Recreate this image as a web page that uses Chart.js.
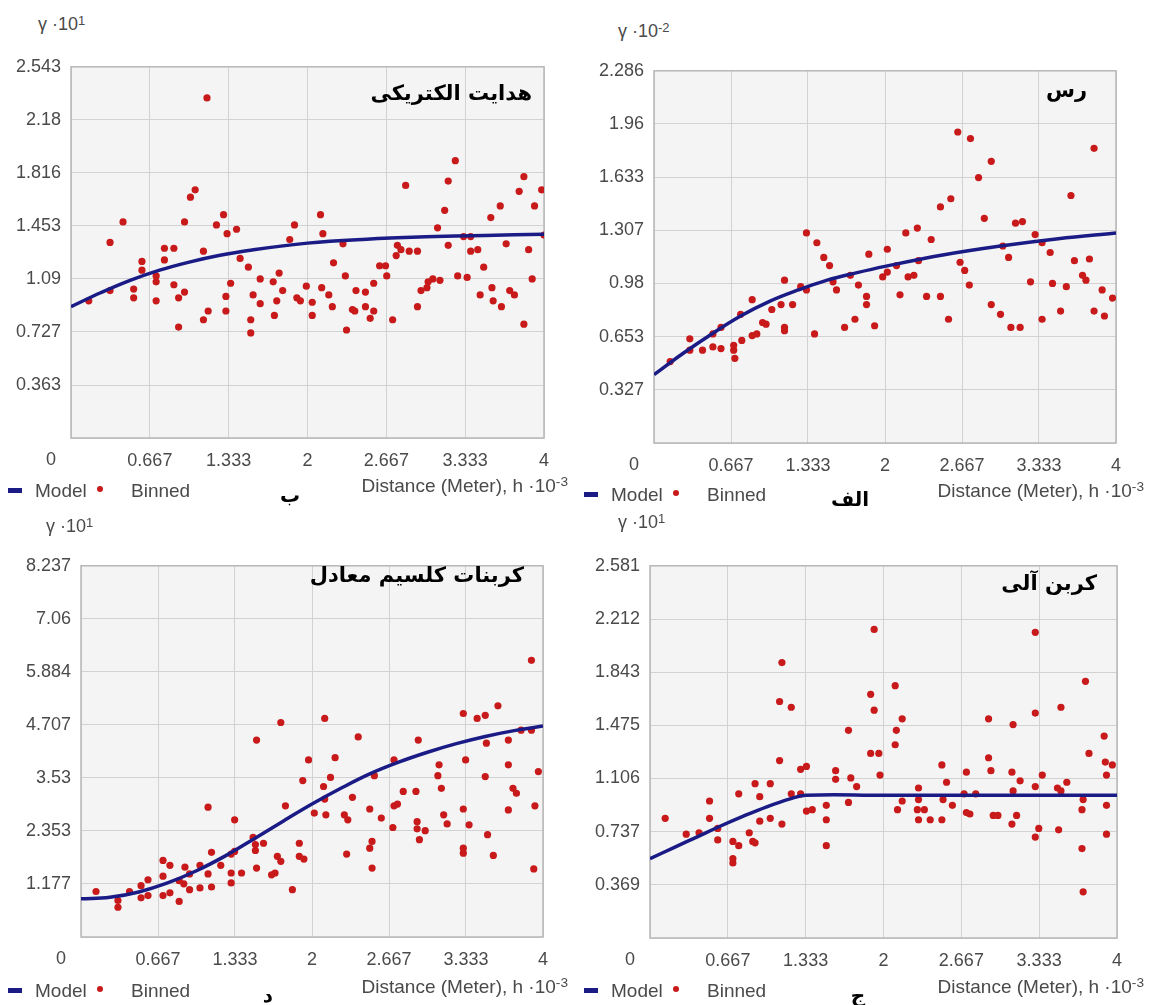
<!DOCTYPE html>
<html>
<head>
<meta charset="utf-8">
<script src="https://cdn.jsdelivr.net/npm/chart.js@4.4.1/dist/chart.umd.min.js"></script>
<style>
  body { margin: 0; width: 1153px; height: 1005px; background: #fff; position: relative; overflow: hidden;
         font-family: "Liberation Sans", Arial, sans-serif; }
  canvas { position: absolute; }
  .t { position: absolute; white-space: nowrap; color: #4a4a4a; font-size: 16px; line-height: 1; }
  .t sup { font-size: 0.72em; vertical-align: 0.45em; }
  .fa { position: absolute; white-space: nowrap; font-family: "DejaVu Sans", sans-serif; font-weight: bold;
        color: #000; direction: rtl; line-height: 1; }
  .bar { position: absolute; width: 14px; height: 5px; background: #1b1b86; }
  .dot { position: absolute; width: 6px; height: 6px; border-radius: 50%; background: #c81a1a; }
</style>
</head>
<body>
<script>
// محور افقی (فاصله) مشترک
const xTicks = [0, 0.667, 1.333, 2, 2.667, 3.333, 4];
const xTickLabels = ['0', '0.667', '1.333', '2', '2.667', '3.333', '4'];

// هدایت الکتریکی (ب)
const ecYTicks = [0, 0.363, 0.727, 1.09, 1.453, 1.816, 2.18, 2.543];
const ecBinnedX = [0.15,0.33,0.33,0.44,0.53,0.53,0.60,0.60,0.72,0.72,0.72,0.79,0.79,0.87,0.87,0.91,0.91,0.96,0.96,1.01,
  1.05,1.12,1.12,1.16,1.15,1.23,1.29,1.32,1.31,1.31,1.35,1.40,1.43,1.50,1.52,1.52,1.54,1.60,1.60,1.71,
  1.72,1.74,1.76,1.79,1.85,1.89,1.91,1.94,1.99,2.04,2.04,2.11,2.13,2.12,2.18,2.21,2.22,2.30,2.32,2.33,
  2.38,2.40,2.41,2.49,2.49,2.53,2.56,2.56,2.61,2.66,2.67,2.72,2.75,2.76,2.79,2.83,2.86,2.93,2.93,2.96,
  3.01,3.02,3.06,3.10,3.12,3.16,3.19,3.19,3.25,3.27,3.32,3.35,3.38,3.38,3.44,3.46,3.49,3.55,3.56,3.57,
  3.63,3.64,3.68,3.71,3.75,3.79,3.83,3.83,3.87,3.90,3.92,3.98,4.00];
const ecBinnedY = [0.94,1.01,1.34,1.48,1.02,0.96,1.21,1.15,1.11,1.07,0.94,1.22,1.30,1.05,1.30,0.96,0.76,1.00,1.48,1.65,
  1.70,0.81,1.28,0.87,2.33,1.46,1.53,1.40,0.97,0.87,1.06,1.43,1.23,1.17,0.81,0.72,0.98,1.09,0.92,1.07,
  0.84,0.94,1.13,1.01,1.36,1.46,0.96,0.94,1.04,0.93,0.84,1.53,1.40,1.03,0.98,0.90,1.20,1.33,1.11,0.74,
  0.88,0.87,1.01,1.00,0.90,0.82,1.06,0.87,1.18,1.18,1.11,0.81,1.25,1.32,1.29,1.73,1.28,1.28,0.90,1.01,
  1.03,1.07,1.09,1.44,1.08,1.56,1.76,1.32,1.90,1.11,1.38,1.10,1.38,1.28,1.29,0.98,1.17,1.51,1.03,0.94,
  1.59,0.90,1.33,1.01,0.98,1.69,1.79,0.78,1.29,1.09,1.59,1.70,1.39];
const ecModelX = [0, 0.25, 0.5, 0.75, 1, 1.25, 1.5, 2, 2.5, 3, 3.5, 4];
const ecModelY = [0.90, 0.995, 1.08, 1.15, 1.205, 1.25, 1.285, 1.335, 1.362, 1.378, 1.388, 1.395];

// رس (الف)
const clayYTicks = [0, 0.327, 0.653, 0.98, 1.307, 1.633, 1.96, 2.286];
const clayBinnedX = [0.14,0.31,0.31,0.42,0.51,0.51,0.58,0.58,0.69,0.69,0.70,0.75,0.76,0.85,0.85,0.89,0.94,0.97,1.02,1.10,
  1.13,1.13,1.13,1.20,1.27,1.32,1.32,1.39,1.41,1.47,1.52,1.55,1.58,1.65,1.70,1.74,1.77,1.84,1.84,1.86,
  1.91,1.98,2.02,2.02,2.10,2.13,2.18,2.20,2.25,2.28,2.29,2.36,2.40,2.48,2.48,2.55,2.57,2.63,2.65,2.69,
  2.73,2.74,2.81,2.86,2.92,2.92,3.00,3.02,3.07,3.09,3.13,3.17,3.19,3.26,3.30,3.36,3.36,3.43,3.45,3.52,
  3.57,3.61,3.64,3.71,3.74,3.77,3.81,3.81,3.88,3.90,3.97];
const clayBinnedY = [0.50,0.64,0.57,0.57,0.67,0.59,0.71,0.58,0.60,0.57,0.52,0.79,0.63,0.88,0.66,0.67,0.74,0.73,0.82,0.85,
  1.00,0.71,0.69,0.85,0.96,0.94,1.29,0.67,1.23,1.14,1.09,0.99,0.94,0.71,1.03,0.76,0.97,0.90,0.85,1.16,
  0.72,1.02,1.05,1.19,1.09,0.91,1.29,1.02,1.03,1.32,1.12,0.90,1.25,0.90,1.45,0.76,1.50,1.91,1.11,1.06,
  0.97,1.87,1.63,1.38,1.73,0.85,0.79,1.21,1.14,0.71,1.35,0.71,1.36,0.99,1.28,1.23,0.76,1.17,0.98,0.81,
  0.96,1.52,1.12,1.03,1.00,1.13,1.81,0.81,0.94,0.78,0.89];
const clayModelX = [0, 0.25, 0.5, 0.75, 1, 1.25, 1.5, 1.75, 2, 2.5, 3, 3.5, 4];
const clayModelY = [0.42, 0.55, 0.67, 0.78, 0.87, 0.94, 1.00, 1.045, 1.085, 1.155, 1.21, 1.255, 1.29];

// کربنات کلسیم معادل (د)
const caco3YTicks = [0, 1.177, 2.353, 3.53, 4.707, 5.884, 7.06, 8.237];
const caco3BinnedX = [0.13,0.32,0.32,0.42,0.52,0.52,0.58,0.58,0.71,0.71,0.71,0.77,0.77,0.85,0.85,0.89,0.90,0.94,0.94,1.03,
  1.03,1.10,1.10,1.13,1.13,1.21,1.30,1.30,1.30,1.33,1.33,1.39,1.49,1.51,1.51,1.52,1.52,1.58,1.65,1.68,
  1.70,1.73,1.73,1.77,1.83,1.89,1.89,1.92,1.93,1.97,2.02,2.10,2.11,2.11,2.12,2.16,2.20,2.28,2.30,2.31,
  2.35,2.40,2.50,2.50,2.52,2.52,2.54,2.60,2.70,2.71,2.71,2.74,2.79,2.90,2.91,2.91,2.92,2.93,2.98,3.09,
  3.10,3.12,3.14,3.17,3.31,3.31,3.31,3.31,3.33,3.36,3.43,3.50,3.50,3.51,3.52,3.57,3.61,3.70,3.70,3.70,
  3.74,3.77,3.81,3.90,3.90,3.92,3.93,3.96];
const caco3BinnedY = [1.01,0.81,0.66,1.01,1.14,0.87,1.27,0.92,1.70,1.35,0.92,1.59,0.98,1.25,0.79,1.18,1.55,1.40,1.05,1.59,
  1.09,2.88,1.40,1.88,1.11,1.59,1.42,1.20,1.84,2.60,1.90,1.42,2.21,2.05,1.92,1.53,4.37,2.08,1.38,1.42,
  1.79,1.68,4.76,2.91,1.05,2.08,1.79,3.47,1.73,3.93,2.75,3.34,3.06,4.85,2.71,3.54,3.98,2.71,1.84,2.60,
  3.10,4.44,2.84,1.97,2.12,1.53,3.58,2.64,2.43,2.91,3.93,2.95,3.23,3.23,2.56,2.40,4.37,2.16,2.36,3.58,
  3.82,3.30,2.71,2.51,4.96,2.84,1.97,1.86,3.93,2.49,4.85,4.92,3.56,4.30,2.27,1.81,5.13,4.37,3.82,2.82,
  3.30,3.19,4.59,6.14,4.59,1.51,2.91,3.67];
const caco3ModelX = [0, 0.25, 0.5, 0.75, 1, 1.25, 1.5, 1.75, 2, 2.25, 2.5, 2.75, 3, 3.25, 3.5, 3.75, 4];
const caco3ModelY = [0.85, 0.88, 1.00, 1.20, 1.47, 1.80, 2.18, 2.57, 2.95, 3.30, 3.62, 3.88, 4.10, 4.29, 4.45, 4.58, 4.68];

// کربن آلی (ج)
const ocYTicks = [0, 0.369, 0.737, 1.106, 1.475, 1.843, 2.212, 2.581];
const ocBinnedX = [0.13,0.31,0.42,0.51,0.51,0.58,0.58,0.71,0.71,0.71,0.76,0.76,0.85,0.88,0.90,0.90,0.94,0.94,1.03,1.03,
  1.11,1.11,1.13,1.13,1.21,1.21,1.29,1.29,1.34,1.34,1.39,1.51,1.51,1.51,1.59,1.59,1.70,1.70,1.72,1.77,
  1.89,1.89,1.92,1.92,1.96,1.97,2.10,2.10,2.11,2.12,2.16,2.16,2.29,2.30,2.30,2.30,2.35,2.40,2.50,2.50,
  2.51,2.54,2.59,2.69,2.71,2.71,2.74,2.79,2.90,2.90,2.92,2.94,2.98,3.10,3.10,3.11,3.11,3.14,3.17,3.30,
  3.30,3.30,3.30,3.33,3.36,3.49,3.50,3.52,3.52,3.57,3.70,3.70,3.71,3.71,3.73,3.76,3.89,3.90,3.91,3.91,
  3.91,3.96];
const ocBinnedY = [0.83,0.72,0.73,0.95,0.83,0.76,0.68,0.67,0.55,0.52,1.00,0.64,0.73,0.67,1.07,0.66,0.98,0.81,1.07,0.83,
  1.64,1.23,1.91,0.79,1.60,1.00,1.17,1.00,1.19,0.88,0.89,0.92,0.82,0.64,1.16,1.10,1.44,0.94,1.11,1.05,
  1.69,1.28,2.14,1.58,1.28,1.13,1.75,1.34,1.44,0.89,1.52,0.95,0.89,1.04,0.96,0.82,0.89,0.82,1.20,0.82,
  0.96,1.08,0.92,1.00,0.87,1.15,0.86,1.00,1.52,1.25,1.16,0.85,0.85,1.15,0.79,1.48,1.02,0.85,1.09,2.12,
  1.56,1.05,0.70,0.76,1.13,1.04,0.75,1.60,1.02,1.08,0.89,0.62,0.96,0.32,1.78,1.28,1.40,1.22,0.92,1.13,
  0.72,1.20];
const ocModelX = [0, 0.2, 0.4, 0.6, 0.8, 1.0, 1.2, 1.333, 2, 3, 4];
const ocModelY = [0.55, 0.625, 0.70, 0.775, 0.845, 0.91, 0.965, 0.99, 0.99, 0.99, 0.99];

// چیدمان چهار نمودار
const panels = [
  { title: 'هدایت الکتریکی', letter: 'ب', exp: '1', yTicks: ecYTicks,
    binX: ecBinnedX, binY: ecBinnedY, modX: ecModelX, modY: ecModelY,
    side: 0, box: { l: 71, r: 544, t: 61, b: 438 }, gammaX: 38, gammaY: 24,
    titleR: 532, titleY: 93, letterX: 290, legendY: 490, distY: 485 },
  { title: 'رس', letter: 'الف', exp: '-2', yTicks: clayYTicks,
    binX: clayBinnedX, binY: clayBinnedY, modX: clayModelX, modY: clayModelY,
    side: 576, box: { l: 654, r: 1116, t: 65, b: 443 }, gammaX: 618, gammaY: 31,
    titleR: 1087, titleY: 90, letterX: 850, legendY: 494, distY: 490 },
  { title: 'کربنات کلسیم معادل', letter: 'د', exp: '1', yTicks: caco3YTicks,
    binX: caco3BinnedX, binY: caco3BinnedY, modX: caco3ModelX, modY: caco3ModelY,
    side: 0, box: { l: 81, r: 543, t: 560, b: 937 }, gammaX: 46, gammaY: 526,
    titleR: 524, titleY: 575, letterX: 268, legendY: 990, distY: 986 },
  { title: 'کربن آلی', letter: 'ج', exp: '1', yTicks: ocYTicks,
    binX: ocBinnedX, binY: ocBinnedY, modX: ocModelX, modY: ocModelY,
    side: 576, box: { l: 650, r: 1117, t: 560, b: 938 }, gammaX: 618, gammaY: 522,
    titleR: 1097, titleY: 583, letterX: 858, legendY: 990, distY: 986 }
];

// متن‌های HTML با مرکز عمودی y
function addText(html, x, y, cls, anchor, size) {
  const d = document.createElement('div');
  d.className = cls;
  d.innerHTML = html;
  d.style.top = y + 'px';
  if (size) d.style.fontSize = size + 'px';
  if (anchor === 'right') { d.style.right = (1153 - x) + 'px'; d.style.transform = 'translateY(-50%)'; }
  else if (anchor === 'center') { d.style.left = x + 'px'; d.style.transform = 'translate(-50%,-50%)'; }
  else { d.style.left = x + 'px'; d.style.transform = 'translateY(-50%)'; }
  document.body.appendChild(d);
  return d;
}

function addBox(cls, x, y) {
  const d = document.createElement('div');
  d.className = cls;
  d.style.left = x + 'px';
  d.style.top = y + 'px';
  document.body.appendChild(d);
}

// زمینه و قاب ناحیه نمودار
const plotFrame = {
  id: 'plotFrame',
  beforeDraw(chart) {
    const a = chart.chartArea, ctx = chart.ctx;
    ctx.save();
    ctx.fillStyle = '#f4f4f4';
    ctx.fillRect(a.left, a.top, a.right - a.left, a.bottom - a.top);
    ctx.restore();
  },
  beforeDatasetsDraw(chart) {
    const a = chart.chartArea, ctx = chart.ctx;
    ctx.save();
    ctx.strokeStyle = '#b8b8b8';
    ctx.lineWidth = 1.5;
    ctx.strokeRect(a.left, a.top, a.right - a.left, a.bottom - a.top);
    ctx.restore();
  }
};

panels.forEach(p => {
  const cv = document.createElement('canvas');
  const top = p.box.t - 15;
  const w = 576, h = p.box.b - top + 40;
  cv.width = w; cv.height = h;
  cv.style.left = p.side + 'px';
  cv.style.top = top + 'px';
  cv.style.width = w + 'px';
  cv.style.height = h + 'px';
  document.body.appendChild(cv);

  new Chart(cv, {
    type: 'scatter',
    data: {
      datasets: [
        {
          type: 'line',
          label: 'Model',
          data: p.modX.map((x, i) => ({ x: x, y: p.modY[i] })),
          borderColor: '#1b1b86',
          borderWidth: 3.5,
          pointRadius: 0,
          tension: 0.4,
          fill: false
        },
        {
          label: 'Binned',
          data: p.binX.map((x, i) => ({ x: x, y: p.binY[i] })),
          pointRadius: 3.6,
          pointBackgroundColor: '#c81a1a',
          pointBorderWidth: 0
        }
      ]
    },
    options: {
      responsive: false,
      animation: false,
      events: [],
      layout: { padding: { left: 0, top: 15, right: p.side + w - p.box.r, bottom: 0 } },
      plugins: { legend: { display: false }, tooltip: { enabled: false } },
      scales: {
        x: {
          type: 'linear', min: 0, max: 4,
          afterBuildTicks: s => { s.ticks = xTicks.map(v => ({ value: v })); },
          afterFit: s => { s.height = 40; },
          grid: { color: '#d2d2d2', drawTicks: false },
          border: { display: false },
          ticks: {
            padding: 12, color: '#4a4a4a', maxRotation: 0,
            font: { family: 'Liberation Sans', size: 18 },
            callback: (v, i) => i === 0 ? '' : xTickLabels[i]
          }
        },
        y: {
          type: 'linear', min: 0, max: p.yTicks[p.yTicks.length - 1],
          afterBuildTicks: s => { s.ticks = p.yTicks.map(v => ({ value: v })); },
          afterFit: s => { s.width = p.box.l - p.side; },
          grid: { color: '#d2d2d2', drawTicks: false },
          border: { display: false },
          ticks: {
            padding: 10, color: '#4a4a4a',
            font: { family: 'Liberation Sans', size: 18 },
            callback: (v, i) => i === 0 ? '' : String(p.yTicks[i])
          }
        }
      }
    },
    plugins: [plotFrame]
  });

  // برچسب صفر محور افقی، کمی جلوتر از لبه
  addText('0', p.box.l - 20, p.box.b + 21, 't', 'center', 18);
  // عنوان محور عمودی
  addText('γ ·10<sup>' + p.exp + '</sup>', p.gammaX, p.gammaY, 't', 'left', 18);
  // عنوان فارسی داخل نمودار
  addText(p.title, p.titleR, p.titleY, 'fa', 'right', 21);
  // راهنما
  const lx = p.side + 8;
  addBox('bar', lx, p.legendY - 2);
  addText('Model', lx + 27, p.legendY, 't', 'left', 19);
  addBox('dot', lx + 89, p.legendY - 4);
  addText('Binned', lx + 123, p.legendY, 't', 'left', 19);
  addText(p.letter, p.letterX, p.legendY + 5, 'fa', 'center', 20);
  addText('Distance (Meter), h ·10<sup>-3</sup>', p.side + 568, p.distY, 't', 'right', 19);
});
</script>
</body>
</html>
